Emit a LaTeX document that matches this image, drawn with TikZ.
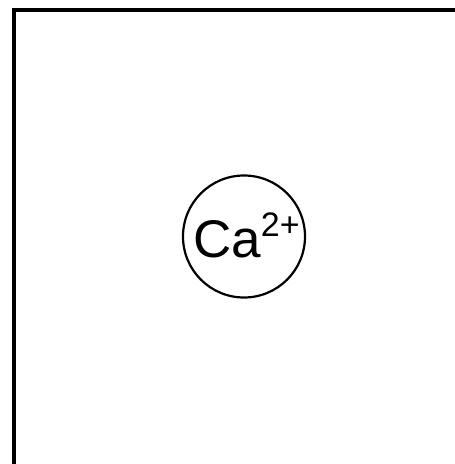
\documentclass[tikz,border=0pt]{standalone}
\usepackage{fontspec}
\setmainfont{Liberation Sans}
\begin{document}
\begin{tikzpicture}[x=1pt,y=1pt,
  frame/.style={draw=black,line width=4pt},
  ion/.style={draw=black,line width=2.2pt,circle,minimum size=122pt,inner sep=0pt}]
\useasboundingbox (0,0) rectangle (455,464);
\clip (0,0) rectangle (455,464);
\fill[white] (0,0) rectangle (455,464);
\draw[frame] (14,-30) -- (14,454) -- (490,454);
\node[ion] (ca) at (244,227.5) {};
\node[anchor=base west,inner sep=0pt] (lbl) at (193,206)
  {\fontsize{53}{53}\selectfont Ca\raisebox{21pt}{\fontsize{34}{34}\selectfont 2+}};
\end{tikzpicture}
\end{document}
